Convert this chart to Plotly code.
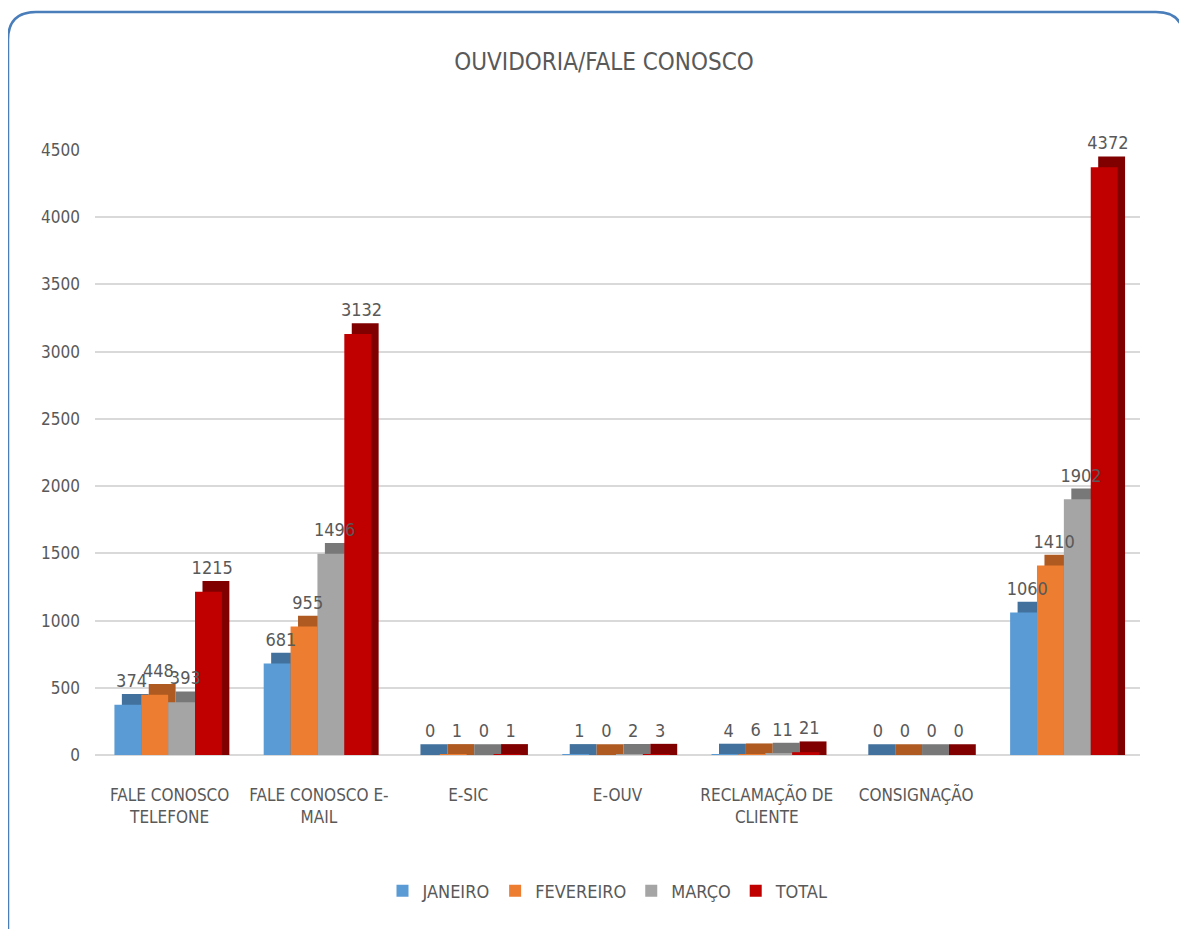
import plotly.graph_objects as go

categories = ["FALE CONOSCO<br>TELEFONE", "FALE CONOSCO E-<br>MAIL", "E-SIC", "E-OUV",
              "RECLAMAÇÃO DE<br>CLIENTE", "CONSIGNAÇÃO", " "]
janeiro = [374, 681, 0, 1, 4, 0, 1060]
fevereiro = [448, 955, 1, 0, 6, 0, 1410]
marco = [393, 1496, 0, 2, 11, 0, 1902]
total = [1215, 3132, 1, 3, 21, 0, 4372]
y_ticks = [0, 500, 1000, 1500, 2000, 2500, 3000, 3500, 4000, 4500]

series = [
    ("JANEIRO", janeiro, "#5B9BD5", "#41719C"),
    ("FEVEREIRO", fevereiro, "#ED7D31", "#AE5A21"),
    ("MARÇO", marco, "#A5A5A5", "#787878"),
    ("TOTAL", total, "#C00000", "#800000"),
]

FONT = "Liberation Sans Narrow, DejaVu Sans Condensed, Arial Narrow, sans-serif"
TXT = "#595959"

# page has an 8px body margin, so pixel targets are shifted by it
OFF = 8
W, H = 1187, 929
L, R, T, B = 95 - OFF, 1140 - OFF, 150 - OFF, 755 - OFF

def px_x(x):
    return (x - OFF - L) / (R - L)

def px_y(y):
    return (B - (y - OFF)) / (B - T)

bar_w = 0.18
depth = 80          # fake 3d depth (data units)
shift = 0.05        # fake 3d shift (category units)

fig = go.Figure()

# back faces first (darker, shifted up/right) -> gives the 3d look
for i, (name, vals, col, dark) in enumerate(series):
    off = -0.37 + i * bar_w
    fig.add_trace(go.Bar(
        x=categories, y=[v + depth for v in vals], width=bar_w, offset=off + shift,
        marker=dict(color=dark, line=dict(width=0)),
        showlegend=False, hoverinfo="skip",
    ))

for i, (name, vals, col, dark) in enumerate(series):
    off = -0.37 + i * bar_w
    fig.add_trace(go.Bar(
        x=categories, y=vals, width=bar_w, offset=off, name=name,
        marker=dict(color=col, line=dict(width=0)),
    ))

# value labels on invisible bars drawn last so nothing covers them
for i, (name, vals, col, dark) in enumerate(series):
    off = -0.37 + i * bar_w
    fig.add_trace(go.Bar(
        x=categories, y=[v + depth for v in vals], width=bar_w, offset=off + shift / 2,
        marker=dict(color="rgba(0,0,0,0)", line=dict(width=0)),
        text=vals, textposition="outside", cliponaxis=False, constraintext="none",
        textfont=dict(family=FONT, size=18, color=TXT),
        showlegend=False, hoverinfo="skip",
    ))

# rounded border of the chart area
x0, x1 = px_x(8), px_x(1184)
y0, y1 = px_y(945), px_y(12)
rx, ry = 28 / (R - L), 28 / (B - T)
path = (f"M {x0},{y0} L {x0},{y1 - ry} Q {x0},{y1} {x0 + rx},{y1} "
        f"L {x1 - rx},{y1} Q {x1},{y1} {x1},{y1 - ry} L {x1},{y0}")

fig.update_layout(
    width=W, height=H,
    barmode="overlay",
    plot_bgcolor="white", paper_bgcolor="white",
    margin=dict(l=L, r=W - R, t=T, b=H - B),
    font=dict(family=FONT, color=TXT, size=17),
    title=dict(text="OUVIDORIA/FALE CONOSCO", x=(604 - OFF) / W, xanchor="center",
               y=1 - (62 - OFF) / H, yanchor="middle",
               font=dict(family=FONT, size=24, color=TXT)),
    legend=dict(orientation="h", x=px_x(608), xanchor="center",
                y=px_y(891), yanchor="middle",
                font=dict(family=FONT, size=18, color=TXT), itemwidth=30),
    shapes=[dict(type="path", path=path, xref="paper", yref="paper",
                 line=dict(color="#4A7EBB", width=2.5), layer="above")],
    showlegend=True,
)
fig.update_xaxes(showgrid=False, showline=False, zeroline=False, ticks="",
                 ticklabelstandoff=28, tickfont=dict(family=FONT, size=17, color=TXT))
fig.update_yaxes(range=[0, 4500], tickvals=y_ticks, showgrid=True,
                 gridcolor="#D9D9D9", gridwidth=2, zeroline=True,
                 zerolinecolor="#D9D9D9", zerolinewidth=2, showline=False,
                 ticklabelstandoff=14, tickfont=dict(family=FONT, size=17, color=TXT))

fig.write_html("out.html")
